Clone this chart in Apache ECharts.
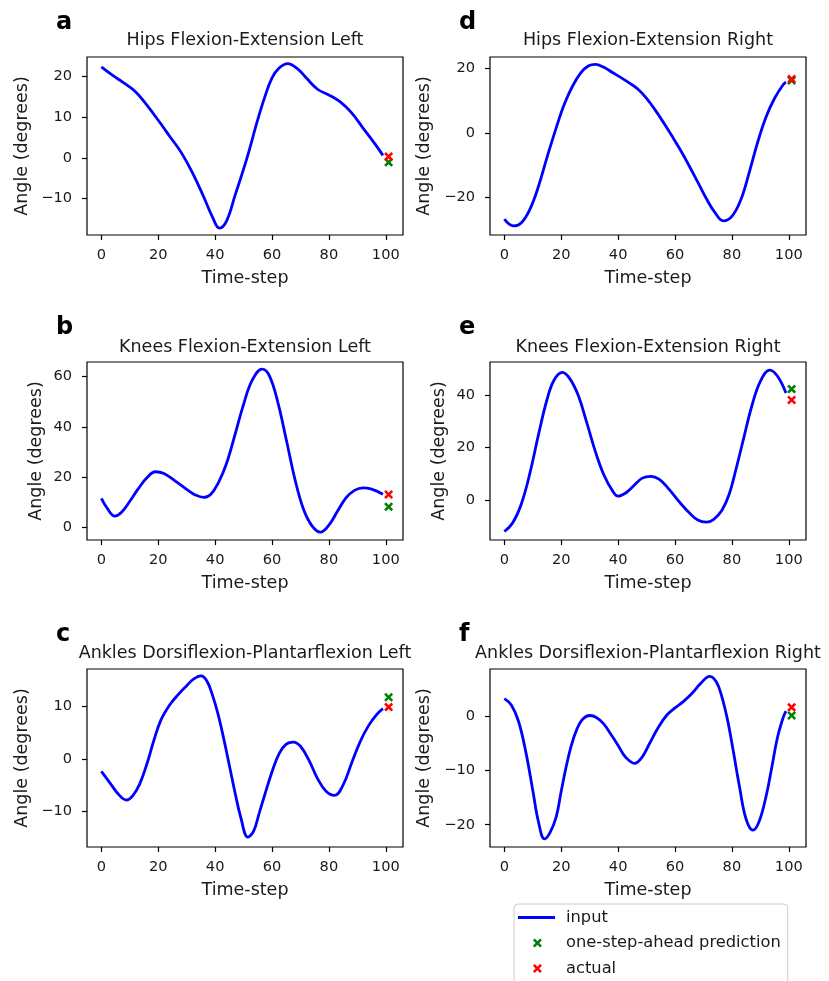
<!DOCTYPE html>
<html><head><meta charset="utf-8">
<script src="https://cdn.jsdelivr.net/npm/echarts@6/dist/echarts.min.js"></script>
<style>html,body{margin:0;padding:0;background:#fff}#c{width:829px;height:981px}</style>
</head><body><div id="c"></div>
<script>
// ---- data (time-step, angle) ----
const hipsLeftT   = [0,4,8,12,16,20,24,28,32,36,39,41.5,44,47,51,55,57.5,60,62.5,65.5,69,72,76,80,84,88,92,96,99];
const hipsLeftV   = [22.3,20.2,18.3,16.2,12.9,9.2,5.3,1.4,-3.6,-9.6,-14.4,-17.2,-15.5,-9.2,-0.5,9.4,15.0,19.6,22.0,23.1,21.8,19.6,16.8,15.4,13.7,11.0,7.3,3.6,0.6];
const kneesLeftT  = [0,2,4.7,7,10,13,16,19,22,26,30,33,36,38.5,41,44,47,50,53,56.5,59,62,65,68,71,74,77,80,83,86,89,92,95,99];
const kneesLeftV  = [11.6,7.8,4.6,6.0,10.5,15.5,19.8,22.2,21.5,18.5,15.2,13.0,12.0,13.3,17.5,25.5,37.0,49.0,58.5,63.0,60.5,50.0,35.0,19.5,7.5,0.8,-1.8,1.0,6.5,11.8,14.8,15.8,15.3,13.3];
const anklesLeftT = [0,3,6,8.8,11,13.5,16,18.5,21,24,27,30,32.5,35,37,39,41,43,45,47,49,51.5,53.5,55.5,57.5,60,62.5,65,67.5,70,73,76,79,82,85,88,91,94,97,99];
const anklesLeftV = [-2.4,-4.6,-6.8,-7.9,-7.1,-4.8,-1.0,3.6,7.5,10.3,12.3,14.0,15.3,15.9,15.0,12.3,8.6,3.9,-1.3,-6.5,-11.2,-15.0,-13.9,-10.4,-6.8,-2.5,1.0,2.8,3.2,2.4,-0.3,-3.8,-6.2,-7.0,-5.0,-0.8,3.3,6.4,8.6,9.6];
const hipsRightT  = [0,3.2,6,9,12,15,18,21,24,27,29.5,32,35,38,41,44,47,50,53,56,59,62,65,68,71,74,77,80,83,86,89,92,95,98,99];
const hipsRightV  = [-26.7,-28.8,-27.8,-23.6,-16.5,-7.5,1.0,8.8,14.6,18.8,20.8,21.3,20.4,18.8,17.2,15.5,13.6,10.8,7.2,3.2,-1.0,-5.4,-10.2,-15.2,-20.3,-24.6,-27.2,-25.8,-21.0,-12.5,-3.0,5.0,10.8,15.0,15.8];
const kneesRightT = [0,3,6,9,12,15,17.5,20.4,23,26,29,32,35,38,40,42.5,45.3,48.5,51.5,54.5,58,61.5,65,68,71,73.5,76.5,79,81.5,84,87,90,93.3,96,99];
const kneesRightV = [-12.2,-8.7,-1.5,10.3,25.0,38.5,46.0,48.9,46.5,40.0,29.5,18.5,9.5,3.5,1.4,2.5,5.2,8.3,9.0,7.8,3.9,-0.8,-5.0,-7.8,-8.6,-7.6,-4.0,2.0,12.0,23.0,36.0,45.5,49.8,47.5,41.0];
const anklesRightT= [0,2.5,5,7.5,10,12,14.1,16,18.2,20,21.7,23.5,25.5,27.5,30,32.5,35,37.5,40,42.5,45.8,48.5,51,54,57,60,63,66,69,72.2,74.5,76.5,78.5,80.5,82.7,85,87.4,89.5,92,94,96,98,99];
const anklesRightV= [3.2,2.0,-1.0,-6.5,-13.7,-19.5,-22.6,-21.5,-18.6,-13.8,-9.4,-5.5,-2.4,-0.6,0.1,-0.3,-1.5,-3.4,-5.4,-7.5,-8.7,-7.5,-5.1,-2.2,0.1,1.5,2.7,4.2,6.0,7.3,6.3,3.5,-0.8,-6.5,-13.1,-19.0,-21.0,-19.5,-14.8,-9.5,-4.0,-0.3,0.9];

const predStep = 101;
const predictions = [-1.1, 8.3, 11.8, 16.3, 42.5, 0.1];   // a,b,c,d,e,f
const actuals     = [0.3, 13.2, 9.9, 16.8, 38.3, 1.6];

const panelTitles = ['Hips Flexion-Extension Left','Knees Flexion-Extension Left','Ankles Dorsiflexion-Plantarflexion Left',
                     'Hips Flexion-Extension Right','Knees Flexion-Extension Right','Ankles Dorsiflexion-Plantarflexion Right'];
const panelLetters = ['a','b','c','d','e','f'];
const xTicks = [0,20,40,60,80,100];
const yTicksA = [-10,0,10,20];
const yTicksB = [0,20,40,60];
const yTicksC = [-10,0,10];
const yTicksD = [-20,0,20];
const yTicksE = [0,20,40];
const yTicksF = [-20,-10,0];
const yRanges = [[-18.9,24.7],[-4.9,65.8],[-16.9,17.2],[-31.6,23.6],[-15.45,52.9],[-24.1,8.66]];
const xRange = [-5.05, 106.05];

// ---- layout ----
const seriesT = [hipsLeftT,kneesLeftT,anklesLeftT,hipsRightT,kneesRightT,anklesRightT];
const seriesV = [hipsLeftV,kneesLeftV,anklesLeftV,hipsRightV,kneesRightV,anklesRightV];
const yTicks = [yTicksA,yTicksB,yTicksC,yTicksD,yTicksE,yTicksF];
const colLeft = [87, 490];
const rowTop = [57, 362, 669];
const GW = 316, GH = 178;
const FONT = 'DejaVu Sans';
const TXT = '#1a1a1a';
const xPath = 'path://M0,2L2,0L5,3L8,0L10,2L7,5L10,8L8,10L5,7L2,10L0,8L3,5Z';
const lineIcon = 'path://M0,0M43,14M0,5.6L37,5.6L37,8.4L0,8.4Z';
const xIcon = 'path://M0,0M43,14M14.9,4.3L16.7,2.5L19.4,5.2L22.1,2.5L23.9,4.3L21.2,7L23.9,9.7L22.1,11.5L19.4,8.8L16.7,11.5L14.9,9.7L17.6,7Z';
const fmt = v => String(v).replace('-', '\u2212');

const grids = [], xAxes = [], yAxes = [], sers = [], titles = [];
const yNameGap = [56, 41.5, 56, 56.5, 41.5, 56.5];
const letterTop = [11, 316, 623];
const titleTop = [31, 338.5, 644.5];
for (let i = 0; i < 6; i++) {
  const col = i < 3 ? 0 : 1, row = i % 3;
  grids.push({left: colLeft[col], top: rowTop[row], width: GW, height: GH, show: true,
    borderColor: '#000', borderWidth: 1.2, backgroundColor: '#fff', containLabel: false});
  xAxes.push({type: 'value', gridIndex: i, min: xRange[0], max: xRange[1], position: 'bottom',
    name: 'Time-step', nameLocation: 'middle', nameGap: 34,
    nameTextStyle: {fontSize: 17.5, color: TXT, fontFamily: FONT},
    axisLine: {show: false, onZero: false}, splitLine: {show: false},
    axisTick: {show: true, inside: false, length: 5, customValues: xTicks, lineStyle: {color: '#000', width: 1.2}},
    axisLabel: {customValues: xTicks, fontSize: 14.6, color: TXT, fontFamily: FONT, margin: 13, formatter: fmt}});
  yAxes.push({type: 'value', gridIndex: i, min: yRanges[i][0], max: yRanges[i][1], position: 'left',
    name: 'Angle (degrees)', nameLocation: 'middle', nameGap: yNameGap[i],
    nameTextStyle: {fontSize: 17.5, color: TXT, fontFamily: FONT},
    axisLine: {show: false, onZero: false}, splitLine: {show: false},
    axisTick: {show: true, inside: false, length: 5, customValues: yTicks[i], lineStyle: {color: '#000', width: 1.2}},
    axisLabel: {customValues: yTicks[i], fontSize: 14.6, color: TXT, fontFamily: FONT, margin: 15, formatter: fmt}});
  sers.push({type: 'line', name: 'input', xAxisIndex: i, yAxisIndex: i,
    data: seriesT[i].map((t, j) => [t, seriesV[i][j]]), showSymbol: false, smooth: 0.4,
    lineStyle: {color: '#0000ff', width: 2.8}, itemStyle: {color: '#0000ff'}, z: 2});
  sers.push({type: 'scatter', name: 'one-step-ahead prediction', xAxisIndex: i, yAxisIndex: i,
    data: [[predStep, predictions[i]]], symbol: xPath, symbolSize: 9, itemStyle: {color: '#008000', opacity: 1}, z: 3});
  sers.push({type: 'scatter', name: 'actual', xAxisIndex: i, yAxisIndex: i,
    data: [[predStep, actuals[i]]], symbol: xPath, symbolSize: 9, itemStyle: {color: '#ff0000', opacity: 1}, z: 4});
  titles.push({text: panelTitles[i], left: colLeft[col] + GW / 2, top: titleTop[row], textAlign: 'center', padding: 0,
    textStyle: {fontSize: 17.5, fontWeight: 'normal', color: TXT, fontFamily: FONT}});
  titles.push({text: panelLetters[i], left: col === 0 ? 56 : 459, top: letterTop[row], padding: 0,
    textStyle: {fontSize: 24, fontWeight: 'bold', color: '#000', fontFamily: FONT}});
}

const chart = echarts.init(document.getElementById('c'), null, {renderer: 'canvas'});
chart.setOption({
  animation: false,
  backgroundColor: '#fff',
  title: titles,
  grid: grids, xAxis: xAxes, yAxis: yAxes, series: sers,
  legend: {orient: 'vertical', left: 514, top: 904, height: 140, selectedMode: false,
    backgroundColor: 'rgba(255,255,255,0.8)', borderColor: '#cccccc', borderWidth: 1, borderRadius: 4,
    padding: [5.5, 7, 12, 4], itemGap: 9.5, itemWidth: 43, itemHeight: 14,
    textStyle: {fontSize: 16.3, color: TXT, fontFamily: FONT},
    data: [{name: 'input', icon: lineIcon}, {name: 'one-step-ahead prediction', icon: xIcon}, {name: 'actual', icon: xIcon}]}
});
</script></body></html>
